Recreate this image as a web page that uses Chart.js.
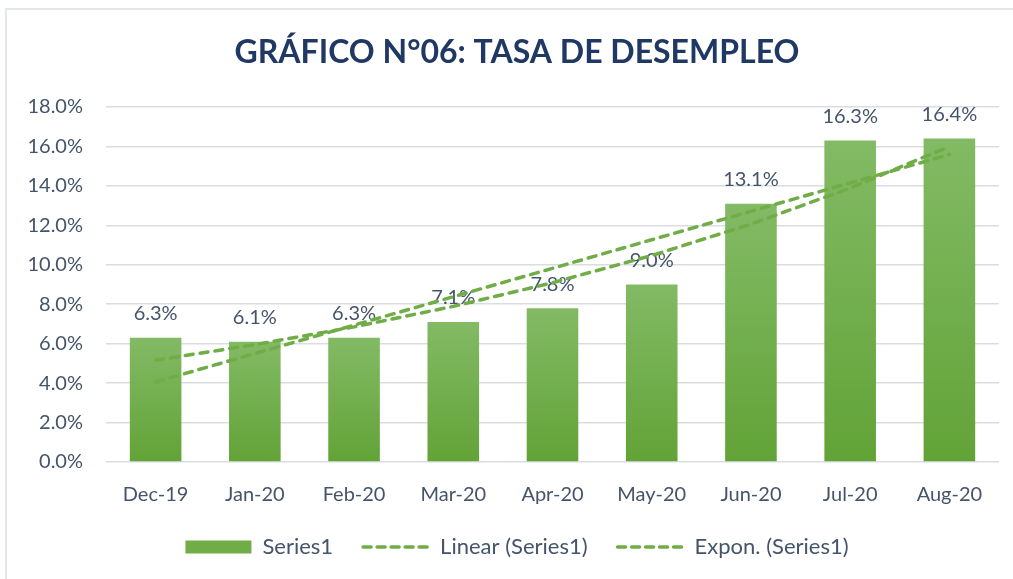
<!DOCTYPE html>
<html>
<head>
<meta charset="utf-8">
<script src="https://cdn.jsdelivr.net/npm/chart.js@4.4.1/dist/chart.umd.min.js"></script>
<style>
  html, body { margin: 0; padding: 0; background: #fff; }
  body { width: 1013px; height: 579px; overflow: hidden; position: relative; }
  .frame {
    position: absolute; left: 5px; top: 8px; width: 1100px; height: 700px;
    border-top: 2px solid #e3e6ea; border-left: 2px solid #e3e6ea;
  }
  #wrap { position: absolute; left: 0; top: 0; width: 1040px; height: 579px; }
</style>
</head>
<body>
<div class="frame"></div>
<div id="wrap"><canvas id="chart" width="1040" height="579"></canvas></div>
<script>
const categories = ['Dec-19', 'Jan-20', 'Feb-20', 'Mar-20', 'Apr-20', 'May-20', 'Jun-20', 'Jul-20', 'Aug-20'];
const tasa = [6.3, 6.1, 6.3, 7.1, 7.8, 9.0, 13.1, 16.3, 16.4];
// trend lines
const linearTrend = [4.06, 5.50, 6.94, 8.38, 9.82, 11.27, 12.71, 14.15, 15.59];
const exponTrend = [5.16, 5.95, 6.85, 7.89, 9.09, 10.47, 12.06, 13.89, 16.00];
const yMin = 0, yMax = 18, yStep = 2;

const textColor = '#44546a';
const green = '#70ad47';

function barFill(ctx) {
  const chart = ctx.chart;
  const y = chart.scales.y;
  if (!chart.chartArea || !y || ctx.type !== 'data') return green;
  const top = y.getPixelForValue(ctx.raw);
  const base = y.getPixelForValue(0);
  const g = chart.ctx.createLinearGradient(0, top, 0, base);
  g.addColorStop(0, '#83ba65');
  g.addColorStop(1, '#62a337');
  return g;
}

const barLabels = {
  id: 'barLabels',
  afterDatasetDraw(chart, args) {
    if (args.index !== 0) return;
    const c = chart.ctx;
    c.save();
    c.font = '20px Lato';
    c.fillStyle = textColor;
    c.textAlign = 'center';
    c.textBaseline = 'middle';
    args.meta.data.forEach((bar, i) => {
      c.fillText(tasa[i].toFixed(1) + '%', bar.x, bar.y - 24);
    });
    c.restore();
  }
};

new Chart(document.getElementById('chart'), {
  type: 'bar',
  data: {
    labels: categories,
    datasets: [
      {
        label: 'Series1',
        data: tasa,
        backgroundColor: barFill,
        barPercentage: 0.52,
        categoryPercentage: 1,
        order: 3
      },
      {
        type: 'line',
        label: 'Linear (Series1)',
        data: linearTrend,
        borderColor: green,
        borderWidth: 3.5,
        borderDash: [8, 7],
        borderCapStyle: 'round',
        pointRadius: 0,
        fill: false,
        order: 1
      },
      {
        type: 'line',
        label: 'Expon. (Series1)',
        data: exponTrend,
        borderColor: green,
        borderWidth: 3.5,
        borderDash: [8, 7],
        borderCapStyle: 'round',
        pointRadius: 0,
        fill: false,
        order: 2
      }
    ]
  },
  options: {
    responsive: false,
    animation: false,
    layout: { padding: { left: 0, right: 6, top: 0, bottom: 11 } },
    plugins: {
      tooltip: { enabled: false },
      title: {
        display: true,
        text: 'GRÁFICO N°06: TASA DE DESEMPLEO',
        color: '#203864',
        font: { family: 'Lato', size: 32, weight: 'bold' },
        padding: { top: 33, bottom: 35.6 }
      },
      legend: {
        position: 'bottom',
        labels: {
          usePointStyle: true,
          pointStyleWidth: 66,
          boxHeight: 13,
          padding: 30,
          color: textColor,
          font: { family: 'Lato', size: 22 },
          sort: (a, b) => a.datasetIndex - b.datasetIndex,
          generateLabels(chart) {
            const items = Chart.defaults.plugins.legend.labels.generateLabels(chart);
            items.forEach(it => {
              if (it.datasetIndex === 0) {
                it.fillStyle = green;
                it.strokeStyle = green;
                it.pointStyle = 'rect';
                it.lineWidth = 0;
              } else {
                it.pointStyle = 'line';
                it.strokeStyle = green;
                it.lineWidth = 3.5;
                it.lineDash = [8, 6];
                it.lineCap = 'round';
              }
            });
            return items;
          }
        }
      }
    },
    scales: {
      x: {
        grid: { display: false },
        border: { display: false },
        ticks: { color: textColor, font: { family: 'Lato', size: 20 }, padding: 13, maxRotation: 0 },
        afterFit(scale) { scale.height = 44; }
      },
      y: {
        min: yMin,
        max: yMax,
        grid: { color: '#d9dde2', lineWidth: 1.5, drawTicks: false },
        border: { display: false },
        ticks: {
          stepSize: yStep,
          color: textColor,
          font: { family: 'Lato', size: 20 },
          padding: 23,
          callback: v => v.toFixed(1) + '%'
        },
        afterFit(scale) { scale.width = 106; }
      },
      // empty right-hand spacer so title and legend sit centred on the frame
      spacer: {
        type: 'linear',
        position: 'right',
        grid: { display: false },
        border: { display: false },
        ticks: { display: false },
        afterFit(scale) { scale.width = 35; }
      }
    }
  },
  plugins: [barLabels]
});
</script>
</body>
</html>
